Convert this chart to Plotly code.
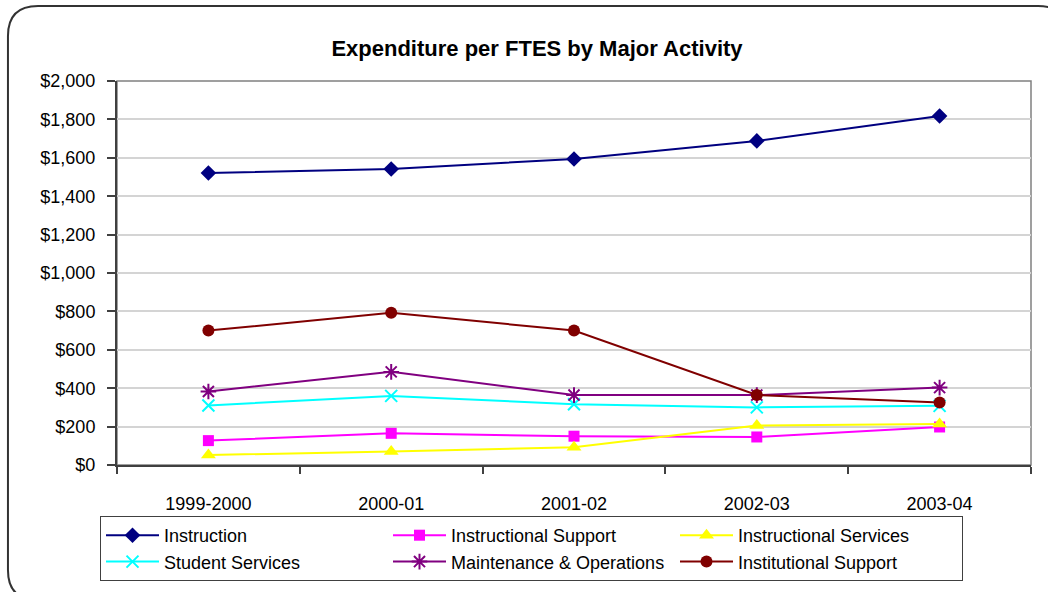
import plotly.graph_objs as go

# data
years = ['1999-2000', '2000-01', '2001-02', '2002-03', '2003-04']
instruction = [1521, 1542, 1594, 1688, 1818]
instr_support = [127, 165, 150, 146, 198]
instr_services = [52, 70, 92, 206, 214]
student_services = [310, 360, 316, 300, 308]
maint_ops = [383, 485, 364, 364, 403]
inst_support = [700, 793, 700, 365, 326]

y_ticks = [0, 200, 400, 600, 800, 1000, 1200, 1400, 1600, 1800, 2000]
y_labels = ['$' + format(v, ',') for v in y_ticks]

series = [
    ('Instruction', instruction, '#000080', 'diamond', 12),
    ('Instructional Support', instr_support, '#FF00FF', 'square', 11),
    ('Instructional Services', instr_services, '#FFFF00', 'triangle-up', 13),
    ('Student Services', student_services, '#00FFFF', 'x-thin-open', 12),
    ('Maintenance & Operations', maint_ops, '#800080', 'asterisk-open', 13),
    ('Institutional Support', inst_support, '#800000', 'circle', 12),
]

W, H = 1048, 592
L, R, T, B = 117, 17, 81, 127
pw, ph = W - L - R, H - T - B
font_family = 'Liberation Sans, Arial, sans-serif'


def px(x, y):
    # pixel position -> paper coordinates
    return (x - L) / pw, (H - B - y) / ph


def rounded_box(x0, y0, x1, y1, r):
    pts = []
    a = px(x0 + r, y0); pts.append('M%.4f,%.4f' % a)
    b = px(x1 - r, y0); pts.append('L%.4f,%.4f' % b)
    c = px(x1, y0); d = px(x1, y0 + r); pts.append('Q%.4f,%.4f %.4f,%.4f' % (c + d))
    e = px(x1, y1 - r); pts.append('L%.4f,%.4f' % e)
    f = px(x1, y1); g = px(x1 - r, y1); pts.append('Q%.4f,%.4f %.4f,%.4f' % (f + g))
    h = px(x0 + r, y1); pts.append('L%.4f,%.4f' % h)
    i = px(x0, y1); j = px(x0, y1 - r); pts.append('Q%.4f,%.4f %.4f,%.4f' % (i + j))
    k = px(x0, y0 + r); pts.append('L%.4f,%.4f' % k)
    m = px(x0, y0); n = px(x0 + r, y0); pts.append('Q%.4f,%.4f %.4f,%.4f' % (m + n))
    return ' '.join(pts) + ' Z'


fig = go.Figure()
for name, vals, color, symbol, size in series:
    fig.add_trace(go.Scatter(
        x=years, y=vals, name=name, mode='lines+markers',
        line=dict(color=color, width=2),
        marker=dict(symbol=symbol, size=size, color=color,
                    line=dict(color=color, width=2 if 'open' in symbol else 0)),
    ))

fig.update_layout(
    width=W, height=H,
    margin=dict(l=L, r=R, t=T, b=B, autoexpand=False),
    paper_bgcolor='white',
    plot_bgcolor='white',
    font=dict(family=font_family, size=18, color='#000000'),
    title=dict(text='<b>Expenditure per FTES by Major Activity</b>',
               x=(537 - L) / pw, xref='paper', xanchor='center',
               y=1 - 48 / H, yanchor='middle',
               font=dict(size=22, family=font_family)),
    xaxis=dict(
        type='category', range=[-0.5, 4.5], automargin=False,
        showgrid=False, showline=True, linecolor='#404040', linewidth=2,
        ticks='outside', tickson='boundaries', ticklen=7, tickcolor='#404040',
        tickwidth=1.5, ticklabelstandoff=21, tickfont=dict(size=18),
    ),
    yaxis=dict(
        range=[0, 2000], tickmode='array', tickvals=y_ticks, ticktext=y_labels,
        automargin=False,
        showgrid=True, gridcolor='#d4d4d4', gridwidth=1.5,
        showline=True, linecolor='#404040', linewidth=2,
        ticks='outside', ticklen=8, tickcolor='#404040', tickwidth=1.5,
        ticklabelstandoff=8, tickfont=dict(size=18), zeroline=False,
    ),
    legend=dict(
        orientation='h', x=px(100, 0)[0], xanchor='left',
        y=px(0, 516)[1], yanchor='top',
        bordercolor='#404040', borderwidth=1, bgcolor='white',
        entrywidth=219, itemwidth=53, font=dict(size=18),
        traceorder='normal',
    ),
    shapes=[
        # plot area border (top / right)
        dict(type='rect', xref='paper', yref='paper', x0=0, y0=0, x1=1, y1=1,
             line=dict(color='#808080', width=1.5), layer='below'),
        # rounded outer frame
        dict(type='path', xref='paper', yref='paper',
             path=rounded_box(8, 6, 1068, 600, 30),
             line=dict(color='#333333', width=2)),
    ],
)

fig.write_html('out.html', config={'displayModeBar': False},
               post_script="document.body.style.margin='0';")
